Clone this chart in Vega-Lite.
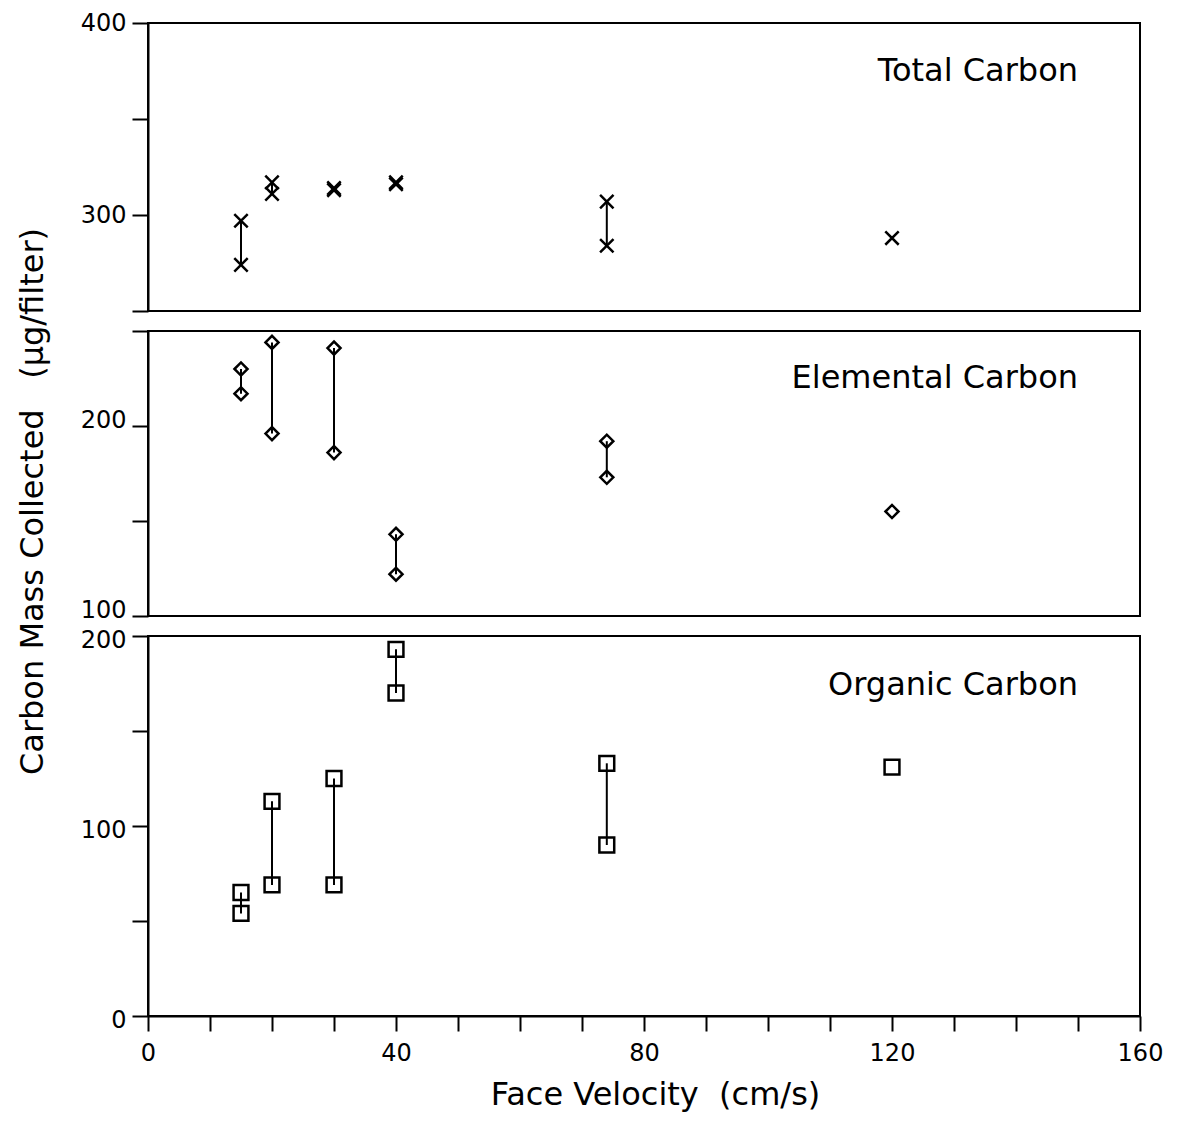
{
  "$schema": "https://vega.github.io/schema/vega-lite/v6.json",
  "background": "white",
  "padding": {"left": 14, "top": 10, "right": 5, "bottom": 5},
  "datasets": {
    "carbon": [
      {"panel": "Total", "v": 15, "c": 297},
      {"panel": "Total", "v": 15, "c": 274},
      {"panel": "Total", "v": 20, "c": 317},
      {"panel": "Total", "v": 20, "c": 311},
      {"panel": "Total", "v": 30, "c": 313},
      {"panel": "Total", "v": 30, "c": 314},
      {"panel": "Total", "v": 40, "c": 316},
      {"panel": "Total", "v": 40, "c": 317},
      {"panel": "Total", "v": 74, "c": 307},
      {"panel": "Total", "v": 74, "c": 284},
      {"panel": "Total", "v": 120, "c": 288},
      {"panel": "Elemental", "v": 15, "c": 230},
      {"panel": "Elemental", "v": 15, "c": 217},
      {"panel": "Elemental", "v": 20, "c": 244},
      {"panel": "Elemental", "v": 20, "c": 196},
      {"panel": "Elemental", "v": 30, "c": 241},
      {"panel": "Elemental", "v": 30, "c": 186},
      {"panel": "Elemental", "v": 40, "c": 143},
      {"panel": "Elemental", "v": 40, "c": 122},
      {"panel": "Elemental", "v": 74, "c": 192},
      {"panel": "Elemental", "v": 74, "c": 173},
      {"panel": "Elemental", "v": 120, "c": 155},
      {"panel": "Organic", "v": 15, "c": 65},
      {"panel": "Organic", "v": 15, "c": 54},
      {"panel": "Organic", "v": 20, "c": 113},
      {"panel": "Organic", "v": 20, "c": 69},
      {"panel": "Organic", "v": 30, "c": 125},
      {"panel": "Organic", "v": 30, "c": 69},
      {"panel": "Organic", "v": 40, "c": 193},
      {"panel": "Organic", "v": 40, "c": 170},
      {"panel": "Organic", "v": 74, "c": 133},
      {"panel": "Organic", "v": 74, "c": 90},
      {"panel": "Organic", "v": 120, "c": 131}
    ]
  },
  "spacing": 20,
  "bounds": "flush",
  "vconcat": [
    {
      "width": 992,
      "height": 288,
      "layer": [
        {
          "data": {"name": "carbon"},
          "transform": [{"filter": "datum.panel == 'Total'"}],
          "mark": {"type": "rule", "color": "black", "strokeWidth": 2},
          "encoding": {
            "x": {"field": "v", "type": "quantitative", "scale": {"domain": [0, 160], "nice": false}, "axis": null},
            "y": {"aggregate": "min", "field": "c", "type": "quantitative", "scale": {"domain": [250, 400], "nice": false},
              "axis": {"title": null, "values": [250, 300, 350, 400], "labelExpr": "datum.value % 100 == 0 ? datum.label : ''"}},
            "y2": {"aggregate": "max", "field": "c"}
          }
        },
        {
          "data": {"name": "carbon"},
          "transform": [{"filter": "datum.panel == 'Total'"}],
          "mark": {"type": "point", "shape": "M-1,-1L1,1M-1,1L1,-1", "filled": false, "stroke": "black", "strokeWidth": 2.5, "size": 180, "opacity": 1},
          "encoding": {
            "x": {"field": "v", "type": "quantitative"},
            "y": {"field": "c", "type": "quantitative"}
          }
        },
        {
          "data": {"values": [{"label": "Total Carbon"}]},
          "mark": {"type": "text", "align": "right", "baseline": "alphabetic", "font": "DejaVu Sans", "fontSize": 32, "color": "black"},
          "encoding": {
            "text": {"field": "label"},
            "x": {"datum": 150},
            "y": {"datum": 370}
          }
        }
      ]
    },
    {
      "width": 992,
      "height": 285,
      "layer": [
        {
          "data": {"name": "carbon"},
          "transform": [{"filter": "datum.panel == 'Elemental'"}],
          "mark": {"type": "rule", "color": "black", "strokeWidth": 2},
          "encoding": {
            "x": {"field": "v", "type": "quantitative", "scale": {"domain": [0, 160], "nice": false}, "axis": null},
            "y": {"aggregate": "min", "field": "c", "type": "quantitative", "scale": {"domain": [100, 250], "nice": false},
              "axis": {"title": "Carbon Mass Collected\u00a0\u00a0\u00a0(μg/filter)", "titleX": -116, "titleY": 170, "titleAngle": -90, "titleAlign": "center", "titleBaseline": "middle", "titleFontSize": 32,
                "labelOffset": -6, "values": [100, 150, 200, 250], "labelExpr": "datum.value % 100 == 0 ? datum.label : ''"}},
            "y2": {"aggregate": "max", "field": "c"}
          }
        },
        {
          "data": {"name": "carbon"},
          "transform": [{"filter": "datum.panel == 'Elemental'"}],
          "mark": {"type": "point", "shape": "diamond", "filled": false, "stroke": "black", "strokeWidth": 2.5, "size": 170, "opacity": 1},
          "encoding": {
            "x": {"field": "v", "type": "quantitative"},
            "y": {"field": "c", "type": "quantitative"}
          }
        },
        {
          "data": {"values": [{"label": "Elemental Carbon"}]},
          "mark": {"type": "text", "align": "right", "baseline": "alphabetic", "font": "DejaVu Sans", "fontSize": 32, "color": "black"},
          "encoding": {
            "text": {"field": "label"},
            "x": {"datum": 150},
            "y": {"datum": 220}
          }
        }
      ]
    },
    {
      "width": 992,
      "height": 380,
      "layer": [
        {
          "data": {"name": "carbon"},
          "transform": [{"filter": "datum.panel == 'Organic'"}],
          "mark": {"type": "rule", "color": "black", "strokeWidth": 2},
          "encoding": {
            "x": {"field": "v", "type": "quantitative", "scale": {"domain": [0, 160], "nice": false},
              "axis": {"title": "Face Velocity\u00a0\u00a0(cm/s)", "titleX": 507, "titleFontSize": 32, "values": [0, 10, 20, 30, 40, 50, 60, 70, 80, 90, 100, 110, 120, 130, 140, 150, 160],
                "labelExpr": "datum.value % 40 == 0 ? datum.label : ''", "labelFlush": false, "tickSize": 15, "labelPadding": 10, "titlePadding": 14}},
            "y": {"aggregate": "min", "field": "c", "type": "quantitative", "scale": {"domain": [0, 200], "nice": false},
              "axis": {"title": null, "labelOffset": 4, "values": [0, 50, 100, 150, 200], "labelExpr": "datum.value % 100 == 0 ? datum.label : ''"}},
            "y2": {"aggregate": "max", "field": "c"}
          }
        },
        {
          "data": {"name": "carbon"},
          "transform": [{"filter": "datum.panel == 'Organic'"}],
          "mark": {"type": "point", "shape": "square", "filled": false, "stroke": "black", "strokeWidth": 2.5, "size": 220, "opacity": 1},
          "encoding": {
            "x": {"field": "v", "type": "quantitative"},
            "y": {"field": "c", "type": "quantitative"}
          }
        },
        {
          "data": {"values": [{"label": "Organic Carbon"}]},
          "mark": {"type": "text", "align": "right", "baseline": "alphabetic", "font": "DejaVu Sans", "fontSize": 32, "color": "black"},
          "encoding": {
            "text": {"field": "label"},
            "x": {"datum": 150},
            "y": {"datum": 169}
          }
        }
      ]
    }
  ],
  "config": {
    "view": {"stroke": "black", "strokeWidth": 2},
    "axis": {
      "grid": false,
      "domainColor": "black",
      "domainWidth": 2,
      "tickColor": "black",
      "tickWidth": 2,
      "tickSize": 16,
      "labelFont": "DejaVu Sans",
      "labelFontSize": 24,
      "labelColor": "black",
      "labelPadding": 6,
      "labelOverlap": false,
      "labelFlush": false,
      "titleFont": "DejaVu Sans",
      "titleFontSize": 30,
      "titleFontWeight": "normal",
      "titleColor": "black"
    }
  }
}
